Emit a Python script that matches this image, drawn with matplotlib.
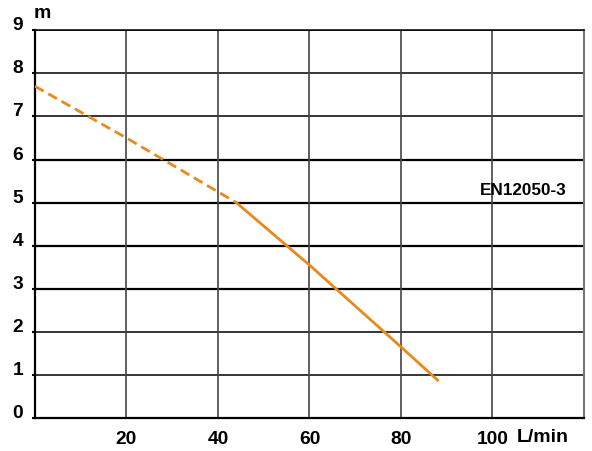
import matplotlib.pyplot as plt

# pump curve
flow_dashed = [0, 20, 44]
head_dashed = [7.7, 6.5, 5.0]
flow_solid = [44, 60, 80, 88]
head_solid = [5.0, 3.55, 1.65, 0.88]

x_ticks = [20, 40, 60, 80, 100]
y_ticks = [0, 1, 2, 3, 4, 5, 6, 7, 8, 9]

plt.rcParams['font.family'] = ['Liberation Sans', 'DejaVu Sans']
plt.rcParams['font.weight'] = 'bold'

fig = plt.figure(figsize=(5.92, 4.51), dpi=100)
ax = fig.add_axes([0.059, 0.073, 0.9275, 0.86])
ax.set_xlim(0, 120)
ax.set_ylim(0, 9)

for y in y_ticks[1:]:
    lw = 1.6 if 3 <= y <= 6 else 1.1
    ax.axhline(y, color='black', lw=lw, zorder=1)
for x in x_ticks:
    ax.axvline(x, color='#444444', lw=1.2, zorder=1)

orange = '#E8891C'
ax.plot(flow_dashed, head_dashed, color=orange, lw=2, ls=(0, (3.6, 1.9)), zorder=3)
ax.plot(flow_solid, head_solid, color=orange, lw=2, zorder=3)

ax.text(116.3, 5.27, 'EN12050-3', ha='right', va='center', fontsize=12.3,
        fontweight='bold')

ax.set_xticks(x_ticks)
ax.set_yticks(y_ticks)
ax.tick_params(axis='x', length=0, pad=9, labelsize=13.8)
ax.tick_params(axis='y', length=2.5, width=1.5, pad=6, labelsize=13.8)
for lab in ax.get_yticklabels():
    lab.set_va('baseline')
for lab in ax.get_xticklabels() + ax.get_yticklabels():
    lab.set_fontweight('bold')

for side in ['left', 'bottom']:
    ax.spines[side].set_linewidth(1.6)
ax.spines['top'].set_linewidth(1.1)
ax.spines['right'].set_color('#777777')
ax.spines['right'].set_linewidth(1.5)

fig.text(42 / 592, 1 - 14 / 451, 'm', ha='center', va='center', fontsize=14,
         fontweight='bold')
fig.text(543 / 592, 1 - 438 / 451, 'L/min', ha='center', va='center',
         fontsize=14, fontweight='bold')

fig.savefig('out.png', dpi=100)
